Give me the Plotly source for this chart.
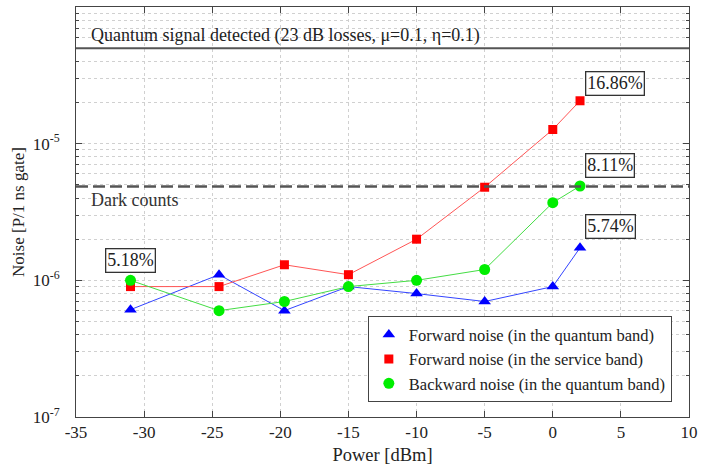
import math
import plotly.graph_objects as go

power = [-31, -24.5, -19.7, -15, -10, -5, 0, 2]
fwd_quantum = [6.1e-7, 1.1e-6, 6.0e-7, 9.0e-7, 8.0e-7, 7.0e-7, 9.0e-7, 1.73e-6]
fwd_service = [9.0e-7, 9.0e-7, 1.3e-6, 1.1e-6, 2.0e-6, 4.8e-6, 1.27e-5, 2.06e-5]
bwd_quantum = [1.0e-6, 6.0e-7, 7.0e-7, 9.0e-7, 1.0e-6, 1.2e-6, 3.7e-6, 4.9e-6]

quantum_signal = 5.0e-5
dark_counts = 4.85e-6

labels = ["16.86%", "8.11%", "5.74%", "5.18%"]
label_x = [2, 2, 2, -31]
label_y = [2.74e-5, 6.9e-6, 2.48e-6, 1.4e-6]

x_ticks = [-35, -30, -25, -20, -15, -10, -5, 0, 5, 10]
x_ticktext = ["-35", "-30", "-25", "-20", "-15", "-10", "-5", "0", "5", "10"]
y_ticks = [1e-7, 1e-6, 1e-5]
y_ticktext = ["10<sup>-7</sup>", "10<sup>-6</sup>", "10<sup>-5</sup>"]

font = "Liberation Serif"
grid = "#d0d0d0"
txt = "#222222"

series = [
    ("Forward noise (in the quantum band)", fwd_quantum, "#3344ff", "#0000ff", "triangle-up", 11),
    ("Forward noise (in the service band)", fwd_service, "#ff5555", "#ff0000", "square", 9),
    ("Backward noise (in the quantum band)", bwd_quantum, "#44dd44", "#00ee00", "circle", 11),
]

fig = go.Figure()
for name, vals, lc, mc, sym, sz in series:
    fig.add_trace(go.Scatter(x=power, y=vals, mode="lines", showlegend=False,
                             line=dict(color=lc, width=1), hoverinfo="skip"))
for name, vals, lc, mc, sym, sz in series:
    fig.add_trace(go.Scatter(x=power, y=vals, mode="markers", name=name,
                             marker=dict(symbol=sym, size=sz, color=mc)))

fig.add_shape(type="line", xref="paper", x0=0, x1=1, yref="y", y0=quantum_signal, y1=quantum_signal,
              line=dict(color="#555555", width=2))
fig.add_shape(type="line", xref="paper", x0=0, x1=1, yref="y", y0=dark_counts, y1=dark_counts,
              line=dict(color="#555555", width=2.5, dash="12px,5px"))

fig.add_annotation(xref="paper", x=0.022, yref="y", y=math.log10(quantum_signal), yanchor="bottom",
                   xanchor="left",
                   text="Quantum signal detected (23 dB losses, \u03bc=0.1, \u03b7=0.1)",
                   showarrow=False, font=dict(family=font, size=18, color=txt), yshift=0)
fig.add_annotation(xref="paper", x=0.022, yref="y", y=math.log10(dark_counts), yanchor="top",
                   xanchor="left", text="Dark counts", showarrow=False,
                   font=dict(family=font, size=18, color="#333"), yshift=-1)

for t, xv, yv in zip(labels, label_x, label_y):
    fig.add_annotation(x=xv, y=math.log10(yv), text=t, showarrow=False,
                       xanchor="left" if xv > 0 else "center",
                       xshift=5 if xv > 0 else 0,
                       font=dict(family=font, size=18, color=txt),
                       bordercolor="#333", borderwidth=1.3, borderpad=1, bgcolor="white")

fig.update_layout(
    width=705, height=465,
    margin=dict(l=76, r=16, t=7, b=48),
    paper_bgcolor="white", plot_bgcolor="white",
    font=dict(family=font, size=17, color=txt),
    showlegend=True,
    legend=dict(x=0.972, y=0.036, xanchor="right", yanchor="bottom",
                bordercolor="#444", borderwidth=1, bgcolor="white",
                font=dict(family=font, size=16.5, color=txt),
                tracegroupgap=0, itemwidth=30),
    xaxis=dict(range=[-35, 10], tickvals=x_ticks, ticktext=x_ticktext,
               ticks="inside", ticklen=6, tickcolor="#444", mirror="allticks",
               showline=True, linecolor="#444", linewidth=1,
               showgrid=True, gridcolor=grid, griddash="dot", gridwidth=1,
               zeroline=False, automargin=False,
               title=dict(text="Power [dBm]", font=dict(family=font, size=18.5), standoff=13),
               tickfont=dict(family=font, size=17)),
    yaxis=dict(type="log", range=[-7, -4],
               tickvals=y_ticks, ticktext=y_ticktext,
               ticks="inside", ticklen=6, tickcolor="#444", mirror="allticks",
               showline=True, linecolor="#444", linewidth=1,
               showgrid=True, gridcolor=grid, griddash="dot", gridwidth=1,
               minor=dict(dtick="D1", ticks="inside", ticklen=3, tickcolor="#444",
                          showgrid=True, gridcolor=grid, griddash="dot", gridwidth=1),
               ticklabelstandoff=12,
               zeroline=False, automargin=False,
               title=dict(text="Noise [P/1 ns gate]", font=dict(family=font, size=17), standoff=3),
               tickfont=dict(family=font, size=17)),
)

fig.write_html("out.html", config={"displayModeBar": False},
               post_script="document.body.style.margin='0';")
